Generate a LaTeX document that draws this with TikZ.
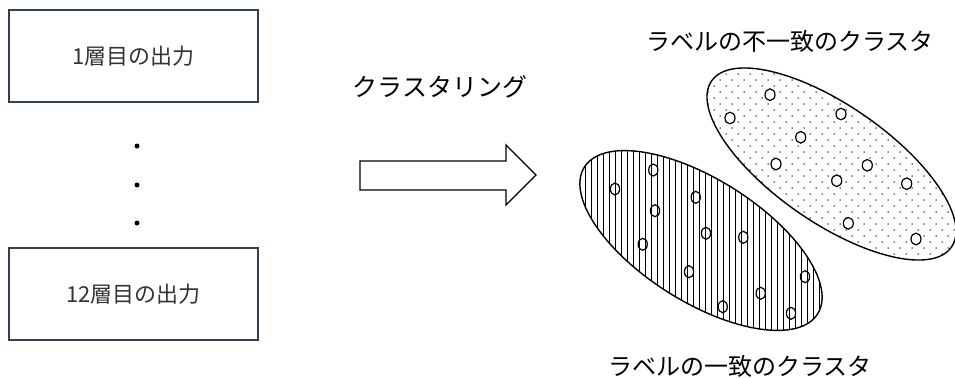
\documentclass[tikz,border=0pt]{standalone}
\usepackage{fontspec}
\newfontfamily\jp{Noto Sans CJK JP}
\definecolor{boxblue}{HTML}{2F3E5C}
\definecolor{txtgray}{HTML}{333333}
\begin{document}
\begin{tikzpicture}[x=1pt,y=-1pt,
  layerbox/.style={draw=boxblue,line width=1.5pt,fill=white,minimum width=249pt,minimum height=92pt,inner sep=0pt,
    text=txtgray,font=\jp\fontsize{22}{22}\selectfont},
  bigtext/.style={font=\jp\fontsize{25}{25}\selectfont,inner sep=0pt},
  lbltext/.style={font=\jp\fontsize{24}{24}\selectfont,inner sep=0pt},
  edge/.style={line width=1.4pt},
  pt/.style={line width=1.2pt}]
\useasboundingbox (0,0) rectangle (955,378);
% layer boxes
\node[layerbox] (b1) at (133.5,56) {1層目の出力};
\node[layerbox] (b12) at (133.5,294) {12層目の出力};
\fill (137,146) circle[radius=2.5];
\fill (137,185) circle[radius=2.5];
\fill (137,223) circle[radius=2.5];
% arrow
\node[bigtext] (clust) at (440,87) {クラスタリング};
\draw[line width=1.3pt,line join=miter] (360,161) -- (506,161) -- (506,145) -- (536,175) -- (506,205) -- (506,190) -- (360,190) -- cycle;
% right (dotted) ellipse
\begin{scope}
  \clip[rotate around={-34.7:(831.5,164)}] (831.5,164) ellipse [x radius=145.9, y radius=58.6];
  \foreach \i in {0,...,36}{
    \foreach \j in {0,...,22}{
      \fill ({702+12*\j+6*mod(\i,2)},{62+6*\i}) circle[radius=0.75];
    }
  }
\end{scope}
\draw[edge,rotate around={-34.7:(831.5,164)}] (831.5,164) ellipse [x radius=145.9, y radius=58.6];
% left (hatched) ellipse
\begin{scope}
  \clip[rotate around={-32.2:(701,240.5)}] (701,240.5) ellipse [x radius=137.8, y radius=61.3];
  \foreach \x in {579,585,...,827}{
    \draw[line width=0.9pt] (\x,145) -- (\x,340);
  }
\end{scope}
\draw[edge,rotate around={-32.2:(701,240.5)}] (701,240.5) ellipse [x radius=137.8, y radius=61.3];
% points in left cluster
\foreach \p in {(615,189),(653.3,170),(655,210.7),(695.7,197.3),(642.7,244.3),(706,233.3),(743.3,237.3),(689,271.7),(722.7,306.7),(760.7,293.3),(791,313.3),(805,276.7)}{
  \draw[pt] \p ellipse [x radius=4.6, y radius=6];
}
% points in right cluster
\foreach \p in {(770,94.7),(730,118),(841,114),(800.7,137.3),(776,164),(867.3,165.3),(836.7,180.7),(906.7,183.7),(848.3,223.3),(916,239)}{
  \draw[pt,fill=white] \p ellipse [x radius=5, y radius=5.8];
}
% labels
\node[lbltext] (lmis) at (790,41) {ラベルの不一致のクラスタ};
\node[lbltext] (lmat) at (740,366) {ラベルの一致のクラスタ};
\end{tikzpicture}
\end{document}
